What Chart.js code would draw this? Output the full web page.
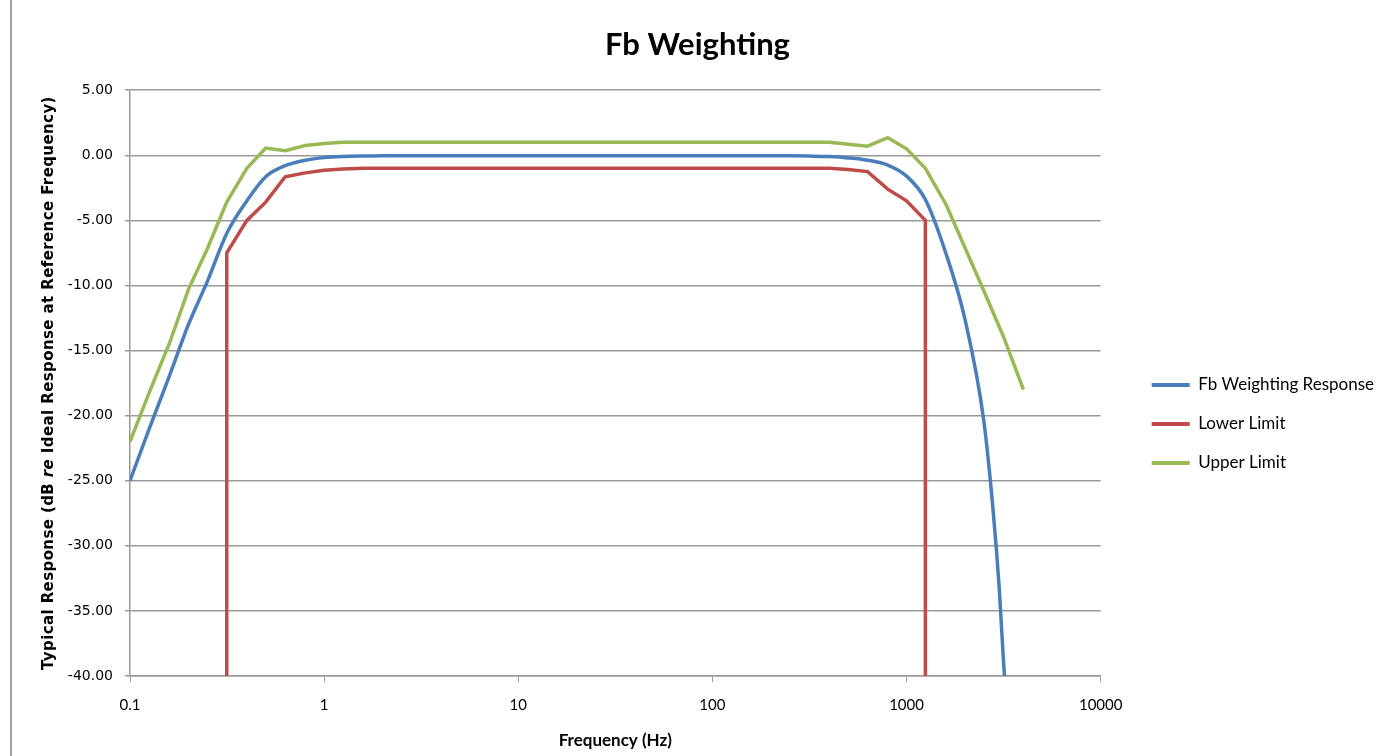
<!DOCTYPE html>
<html>
<head>
<meta charset="utf-8">
<script src="https://cdn.jsdelivr.net/npm/chart.js@4"></script>
<style>
  body { margin: 0; background: #fff; }
  .wrap { position: relative; width: 1395px; height: 756px; }
  .edge { position: absolute; left: 10px; top: 0; width: 2px; height: 756px; background: #a0a0a0; }
</style>
</head>
<body>
<div class="wrap">
  <canvas id="myChart"></canvas>
  <div class="edge"></div>
</div>
<script>
// weighting response
const responseFreq = [
  0.1, 0.125, 0.16, 0.2, 0.25, 0.315, 0.4, 0.5, 0.63, 0.8,
  1, 1.25, 1.6, 2, 2.5, 3.15, 4, 5, 6.3, 8,
  10, 12.5, 16, 20, 25, 31.5, 40, 50, 63, 80,
  100, 125, 160, 200, 250, 315, 400, 500, 630, 800,
  1000, 1250, 1600, 2000, 2500, 2800, 3000, 3150, 4000,
];
const responseVals = [
  -25.0, -21.1, -16.9, -13.0, -9.7, -6.0, -3.5, -1.65, -0.8, -0.38,
  -0.18, -0.09, -0.05, -0.03, -0.03, -0.03, -0.03, -0.03, -0.03, -0.03,
  -0.03, -0.03, -0.03, -0.03, -0.03, -0.03, -0.03, -0.03, -0.03, -0.03,
  -0.03, -0.03, -0.03, -0.03, -0.04, -0.06, -0.1, -0.2, -0.38, -0.75,
  -1.6, -3.4, -7.6, -12.6, -20.4, -27.5, -33.2, -38.6, -62,
];

// tolerance limits
const lowerFreq = [
  0.315, 0.315, 0.4, 0.5, 0.63, 0.8, 1, 1.25, 1.6, 2,
  2.5, 3.15, 4, 5, 6.3, 8, 10, 12.5, 16, 20,
  25, 31.5, 40, 50, 63, 80, 100, 125, 160, 200,
  250, 315, 400, 500, 630, 800, 1000, 1250, 1250,
];
const lowerVals = [
  -100, -7.5, -5.0, -3.6, -1.65, -1.35, -1.15, -1.05, -1.0, -1.0,
  -1.0, -1.0, -1.0, -1.0, -1.0, -1.0, -1.0, -1.0, -1.0, -1.0,
  -1.0, -1.0, -1.0, -1.0, -1.0, -1.0, -1.0, -1.0, -1.0, -1.0,
  -1.0, -1.0, -1.0, -1.1, -1.25, -2.6, -3.5, -5.0, -100,
];
const upperFreq = [
  0.1, 0.125, 0.16, 0.2, 0.25, 0.315, 0.4, 0.5, 0.63, 0.8,
  1, 1.25, 1.6, 2, 2.5, 3.15, 4, 5, 6.3, 8,
  10, 12.5, 16, 20, 25, 31.5, 40, 50, 63, 80,
  100, 125, 160, 200, 250, 315, 400, 500, 630, 800,
  1000, 1250, 1600, 2000, 2500, 3150, 4000,
];
const upperVals = [
  -22.0, -18.3, -14.4, -10.3, -7.2, -3.6, -1.0, 0.55, 0.35, 0.75,
  0.9, 1.0, 1.0, 1.0, 1.0, 1.0, 1.0, 1.0, 1.0, 1.0,
  1.0, 1.0, 1.0, 1.0, 1.0, 1.0, 1.0, 1.0, 1.0, 1.0,
  1.0, 1.0, 1.0, 1.0, 1.0, 1.0, 1.0, 0.85, 0.7, 1.35,
  0.5, -1.0, -3.8, -7.1, -10.4, -13.9, -18.0,
];

const xTickValues = [0.1, 1, 10, 100, 1000, 10000];
const xTickLabels = ["0.1", "1", "10", "100", "1000", "10000"];

const pts = (xs, ys) => xs.map((x, i) => ({ x: x, y: ys[i] }));

// y title has an italic "re" in it, so draw it by hand
const yTitle = {
  id: "yTitle",
  afterDraw(chart) {
    const { ctx, chartArea } = chart;
    const parts = [
      ["Typical Response (dB ", "bold 15px 'DejaVu Sans'"],
      ["re", "italic bold 15px 'DejaVu Sans'"],
      [" Ideal Response at Reference Frequency)", "bold 15px 'DejaVu Sans'"],
    ];
    ctx.save();
    ctx.translate(49, (chartArea.top + chartArea.bottom) / 2);
    ctx.rotate(-Math.PI / 2);
    ctx.fillStyle = "#000";
    ctx.textBaseline = "middle";
    ctx.textAlign = "left";
    ctx.letterSpacing = "0.4px";
    let total = 0;
    parts.forEach((p) => {
      ctx.font = p[1];
      total += ctx.measureText(p[0]).width;
    });
    let x = -total / 2;
    parts.forEach((p) => {
      ctx.font = p[1];
      ctx.fillText(p[0], x, 0);
      x += ctx.measureText(p[0]).width;
    });
    ctx.restore();
  },
};

// excel leaves a gap before the legend and centres the title on the whole canvas
const excelLayout = {
  id: "excelLayout",
  afterLayout(chart) {
    const lg = chart.legend;
    const w = lg.width;
    lg.left = chart.chartArea.right + 29;
    lg.right = lg.left + w;
    lg.top += 46;
    lg.bottom += 46;
    chart.titleBlock.left = 0;
    chart.titleBlock.right = chart.width;
  },
};

const ctx = document.getElementById("myChart").getContext("2d");

const data = {
  datasets: [
    {
      label: "Fb Weighting Response",
      data: pts(responseFreq, responseVals),
      borderColor: "#4a7ebb",
      backgroundColor: "#4a7ebb",
      borderWidth: 3.5,
      pointRadius: 0,
      cubicInterpolationMode: "monotone",
      clip: 0,
    },
    {
      label: "Lower Limit",
      data: pts(lowerFreq, lowerVals),
      borderColor: "#be4b48",
      backgroundColor: "#be4b48",
      borderWidth: 3.5,
      pointRadius: 0,
      tension: 0,
      clip: 0,
    },
    {
      label: "Upper Limit",
      data: pts(upperFreq, upperVals),
      borderColor: "#98b954",
      backgroundColor: "#98b954",
      borderWidth: 3.5,
      pointRadius: 0,
      tension: 0,
      clip: 0,
    },
  ],
};

const config = {
  type: "line",
  data: data,
  options: {
    responsive: true,
    maintainAspectRatio: false,
    animation: false,
    layout: { padding: { left: 0, right: 40, top: 0, bottom: 0 } },
    plugins: {
      title: {
        display: true,
        text: "Fb Weighting",
        color: "#000",
        font: { family: "Lato", size: 31, weight: "bold" },
        padding: { top: 26, bottom: 27 },
      },
      legend: {
        position: "right",
        labels: {
          boxWidth: 38,
          boxHeight: 4,
          padding: 22,
          color: "#000",
          font: { family: "Lato", size: 17 },
          generateLabels: (chart) =>
            Chart.defaults.plugins.legend.labels
              .generateLabels(chart)
              .map((l) => ({ ...l, lineWidth: 0 })),
        },
      },
      tooltip: { enabled: false },
    },
    scales: {
      x: {
        type: "logarithmic",
        min: 0.1,
        max: 10000,
        afterBuildTicks: (scale) => {
          scale.ticks = xTickValues.map((v) => ({ value: v }));
        },
        afterFit: (scale) => {
          scale.height = 80;
        },
        ticks: {
          autoSkip: false,
          maxRotation: 0,
          padding: 14,
          color: "#000",
          font: { family: "Lato", size: 15 },
          callback: (value, index) => xTickLabels[index],
        },
        grid: { drawOnChartArea: false, drawTicks: true, tickLength: 6, color: "#999" },
        border: { color: "#999", width: 1.5 },
        title: {
          display: true,
          text: "Frequency (Hz)",
          color: "#000",
          font: { family: "Lato", size: 17, weight: "bold" },
          padding: { top: 0, bottom: 5 },
        },
      },
      y: {
        min: -40,
        max: 5,
        afterFit: (scale) => {
          scale.width = 130;
        },
        ticks: {
          stepSize: 5,
          padding: 12,
          color: "#000",
          font: { family: "DejaVu Sans", size: 14 },
          callback: (value) => value.toFixed(2),
        },
        grid: { color: "#999", lineWidth: 1.5, tickLength: 5 },
        border: { color: "#999", width: 1.5 },
      },
    },
  },
  plugins: [yTitle, excelLayout],
};

const myChart = new Chart(ctx, config);
</script>
</body>
</html>
